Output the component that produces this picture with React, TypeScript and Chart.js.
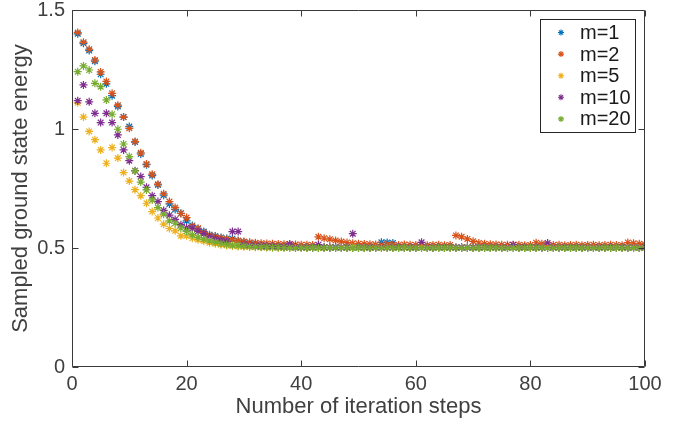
import React, { useEffect, useRef } from "react";
import { Chart, registerables } from "chart.js";

Chart.register(...registerables);

const steps = [
  1, 2, 3, 4, 5, 6, 7, 8, 9, 10,
  11, 12, 13, 14, 15, 16, 17, 18, 19, 20,
  21, 22, 23, 24, 25, 26, 27, 28, 29, 30,
  31, 32, 33, 34, 35, 36, 37, 38, 39, 40,
  41, 42, 43, 44, 45, 46, 47, 48, 49, 50,
  51, 52, 53, 54, 55, 56, 57, 58, 59, 60,
  61, 62, 63, 64, 65, 66, 67, 68, 69, 70,
  71, 72, 73, 74, 75, 76, 77, 78, 79, 80,
  81, 82, 83, 84, 85, 86, 87, 88, 89, 90,
  91, 92, 93, 94, 95, 96, 97, 98, 99, 100,
];

const m1 = [
  1.4, 1.36, 1.33, 1.285, 1.23, 1.19, 1.14, 1.095, 1.05, 1.01,
  0.945, 0.895, 0.85, 0.805, 0.765, 0.722, 0.685, 0.662, 0.646, 0.614,
  0.595, 0.58, 0.569, 0.556, 0.55, 0.544, 0.54, 0.539, 0.53, 0.525,
  0.52, 0.516, 0.513, 0.511, 0.509, 0.507, 0.506, 0.505, 0.504, 0.503,
  0.503, 0.502, 0.503, 0.502, 0.502, 0.503, 0.502, 0.502, 0.501, 0.502,
  0.502, 0.501, 0.502, 0.524, 0.523, 0.521, 0.503, 0.502, 0.502, 0.501,
  0.502, 0.502, 0.501, 0.502, 0.501, 0.502, 0.502, 0.501, 0.502, 0.501,
  0.502, 0.501, 0.502, 0.502, 0.501, 0.502, 0.501, 0.502, 0.501, 0.502,
  0.501, 0.502, 0.501, 0.502, 0.502, 0.501, 0.502, 0.501, 0.502, 0.501,
  0.502, 0.501, 0.502, 0.501, 0.502, 0.502, 0.501, 0.502, 0.501, 0.502,
];

const m2 = [
  1.405, 1.365, 1.335, 1.29, 1.24, 1.2, 1.15, 1.1, 1.05, 1.003,
  0.947, 0.9, 0.853, 0.81, 0.768, 0.728, 0.695, 0.67, 0.645, 0.628,
  0.59, 0.583, 0.565, 0.555, 0.548, 0.542, 0.537, 0.533, 0.53, 0.527,
  0.524, 0.522, 0.52, 0.519, 0.518, 0.517, 0.516, 0.515, 0.515, 0.514,
  0.514, 0.513, 0.547, 0.541, 0.537, 0.532, 0.527, 0.523, 0.52, 0.518,
  0.517, 0.516, 0.515, 0.514, 0.516, 0.514, 0.513, 0.515, 0.514, 0.513,
  0.514, 0.512, 0.513, 0.514, 0.512, 0.513, 0.553, 0.547, 0.538, 0.528,
  0.521, 0.518, 0.516, 0.515, 0.514, 0.514, 0.513, 0.514, 0.512, 0.513,
  0.522, 0.518, 0.514, 0.513, 0.514, 0.512, 0.513, 0.514, 0.512, 0.513,
  0.514, 0.512, 0.513, 0.514, 0.513, 0.512, 0.523, 0.52, 0.518, 0.515,
];

const m5 = [
  1.11, 1.05, 0.99, 0.955, 0.912, 0.856, 0.922, 0.878, 0.817, 0.781,
  0.745, 0.72, 0.688, 0.653, 0.626, 0.6, 0.582, 0.572, 0.551, 0.551,
  0.541, 0.535, 0.528, 0.522, 0.518, 0.514, 0.511, 0.508, 0.506, 0.505,
  0.504, 0.503, 0.503, 0.502, 0.502, 0.501, 0.502, 0.501, 0.501, 0.502,
  0.501, 0.502, 0.501, 0.501, 0.502, 0.501, 0.502, 0.501, 0.501, 0.502,
  0.501, 0.501, 0.502, 0.501, 0.502, 0.501, 0.501, 0.502, 0.501, 0.501,
  0.502, 0.501, 0.501, 0.502, 0.501, 0.502, 0.501, 0.501, 0.502, 0.501,
  0.501, 0.502, 0.501, 0.502, 0.501, 0.501, 0.502, 0.501, 0.501, 0.502,
  0.501, 0.502, 0.501, 0.501, 0.502, 0.501, 0.501, 0.502, 0.501, 0.502,
  0.501, 0.501, 0.502, 0.501, 0.502, 0.501, 0.501, 0.502, 0.501, 0.501,
];

const m10 = [
  1.119, 1.185, 1.114, 1.066, 1.027, 1.066, 1.027, 0.975, 0.912, 0.867,
  0.825, 0.8, 0.755, 0.72, 0.695, 0.658, 0.638, 0.62, 0.598, 0.585,
  0.582, 0.57, 0.56, 0.548, 0.54, 0.533, 0.527, 0.569, 0.569, 0.515,
  0.512, 0.51, 0.508, 0.507, 0.506, 0.505, 0.505, 0.517, 0.504, 0.503,
  0.503, 0.503, 0.514, 0.503, 0.502, 0.503, 0.502, 0.503, 0.56, 0.503,
  0.502, 0.503, 0.502, 0.503, 0.502, 0.502, 0.503, 0.502, 0.503, 0.502,
  0.524, 0.503, 0.502, 0.503, 0.502, 0.503, 0.502, 0.503, 0.502, 0.503,
  0.502, 0.503, 0.502, 0.503, 0.502, 0.503, 0.514, 0.502, 0.503, 0.502,
  0.503, 0.502, 0.521, 0.503, 0.502, 0.503, 0.502, 0.503, 0.502, 0.503,
  0.502, 0.503, 0.502, 0.503, 0.502, 0.503, 0.502, 0.503, 0.502, 0.503,
];

const m20 = [
  1.241, 1.265, 1.248, 1.192, 1.178, 1.122, 1.062, 0.999, 0.937, 0.884,
  0.824, 0.777, 0.744, 0.702, 0.67, 0.642, 0.614, 0.604, 0.584, 0.57,
  0.556, 0.545, 0.537, 0.53, 0.524, 0.519, 0.515, 0.512, 0.51, 0.508,
  0.506, 0.505, 0.504, 0.503, 0.502, 0.502, 0.501, 0.501, 0.5, 0.501,
  0.5, 0.501, 0.5, 0.5, 0.501, 0.5, 0.501, 0.5, 0.5, 0.501,
  0.5, 0.5, 0.501, 0.5, 0.501, 0.5, 0.5, 0.501, 0.5, 0.5,
  0.501, 0.5, 0.5, 0.501, 0.5, 0.501, 0.5, 0.5, 0.501, 0.5,
  0.5, 0.501, 0.5, 0.501, 0.5, 0.5, 0.501, 0.5, 0.5, 0.501,
  0.5, 0.501, 0.5, 0.5, 0.501, 0.5, 0.5, 0.501, 0.5, 0.501,
  0.5, 0.5, 0.501, 0.5, 0.501, 0.5, 0.5, 0.501, 0.5, 0.5,
];

const seriesNames = ["m=1", "m=2", "m=5", "m=10", "m=20"];
const seriesValues = [m1, m2, m5, m10, m20];
const seriesColors = ["#0072BD", "#D95319", "#EDB120", "#7E2F8E", "#77AC30"];

const xTicks = [0, 20, 40, 60, 80, 100];
const yTicks = [0, 0.5, 1, 1.5];

const FONT = "'Liberation Sans', Arial, Helvetica, sans-serif";
const TEXT_COLOR = "#404040";
const AXIS_COLOR = "#3a3a3a";

function drawStar(ctx: CanvasRenderingContext2D, x: number, y: number, r: number) {
  const d = r * Math.SQRT1_2;
  ctx.beginPath();
  ctx.moveTo(x - r, y);
  ctx.lineTo(x + r, y);
  ctx.moveTo(x, y - r);
  ctx.lineTo(x, y + r);
  ctx.moveTo(x - d, y - d);
  ctx.lineTo(x + d, y + d);
  ctx.moveTo(x - d, y + d);
  ctx.lineTo(x + d, y - d);
  ctx.stroke();
}

const framePlugin = {
  id: "matlabFrame",
  afterDatasetsDraw(chart: any) {
    const { ctx, chartArea: a, scales } = chart;
    const xs = scales.x;
    const ys = scales.y;
    const L = Math.round(a.left) + 0.5;
    const R = Math.round(a.right) - 0.5;
    const T = Math.round(a.top) + 0.5;
    const B = Math.round(a.bottom) - 0.5;
    const tl = 6;
    ctx.save();
    ctx.strokeStyle = AXIS_COLOR;
    ctx.lineWidth = 1;
    ctx.beginPath();
    ctx.rect(L, T, R - L, B - T);
    ctx.stroke();
    ctx.beginPath();
    xTicks.forEach((v) => {
      const px = Math.round(xs.getPixelForValue(v)) + 0.5;
      ctx.moveTo(px, B);
      ctx.lineTo(px, B - tl);
      ctx.moveTo(px, T);
      ctx.lineTo(px, T + tl);
    });
    yTicks.forEach((v) => {
      const py = Math.round(ys.getPixelForValue(v)) + 0.5;
      ctx.moveTo(L, py);
      ctx.lineTo(L + tl, py);
      ctx.moveTo(R, py);
      ctx.lineTo(R - tl, py);
    });
    ctx.stroke();
    ctx.restore();
  },
  afterDraw(chart: any) {
    const { ctx } = chart;
    const bx = 540.5;
    const by = 19.5;
    const bw = 95;
    const bh = 113;
    ctx.save();
    ctx.fillStyle = "#ffffff";
    ctx.fillRect(bx, by, bw, bh);
    ctx.strokeStyle = "#262626";
    ctx.lineWidth = 1;
    ctx.strokeRect(bx, by, bw, bh);
    ctx.font = `20px ${FONT}`;
    ctx.textBaseline = "middle";
    ctx.textAlign = "left";
    seriesNames.forEach((name, i) => {
      const cy = 32.5 + i * 21.6;
      ctx.strokeStyle = seriesColors[i];
      ctx.lineWidth = 1.1;
      drawStar(ctx, 561, cy, 3);
      ctx.fillStyle = "#1a1a1a";
      ctx.fillText(name, 580, cy + 1);
    });
    ctx.restore();
  },
};

export default function App() {
  const canvasRef = useRef<HTMLCanvasElement | null>(null);

  useEffect(() => {
    document.body.style.margin = "0";
    const canvas = canvasRef.current;
    if (!canvas) return;

    const datasets = seriesNames
      .map((name, i) => ({
        label: name,
        data: steps.map((s, j) => ({ x: s, y: seriesValues[i][j] })),
        showLine: false,
        pointStyle: "star" as const,
        pointRadius: 4,
        pointHoverRadius: 4,
        pointBorderWidth: 1.2,
        borderColor: seriesColors[i],
        backgroundColor: seriesColors[i],
        pointBorderColor: seriesColors[i],
        pointBackgroundColor: seriesColors[i],
      }))
      .reverse();

    const chart = new Chart(canvas, {
      type: "scatter",
      data: { datasets },
      options: {
        animation: false,
        responsive: false,
        events: [],
        layout: { padding: { top: 10, right: 40, bottom: 0, left: 0 } },
        plugins: {
          legend: { display: false },
          tooltip: { enabled: false },
        },
        scales: {
          x: {
            type: "linear",
            min: 0,
            max: 100,
            afterBuildTicks: (s: any) => {
              s.ticks = xTicks.map((v) => ({ value: v }));
            },
            ticks: {
              font: { family: FONT, size: 20 },
              color: TEXT_COLOR,
              padding: 5,
              maxRotation: 0,
              autoSkip: false,
              callback: (v: any) => String(v),
            },
            grid: { display: false, drawTicks: false },
            border: { display: false },
            title: {
              display: true,
              text: "Number of iteration steps",
              font: { family: FONT, size: 22 },
              color: TEXT_COLOR,
              padding: { top: 0, bottom: 4 },
            },
            afterFit: (s: any) => {
              s.height = 57;
              s.paddingLeft = 0;
              s.paddingRight = 0;
            },
          },
          y: {
            type: "linear",
            min: 0,
            max: 1.5,
            afterBuildTicks: (s: any) => {
              s.ticks = yTicks.map((v) => ({ value: v }));
            },
            ticks: {
              font: { family: FONT, size: 20 },
              color: TEXT_COLOR,
              padding: 7,
              autoSkip: false,
              callback: (v: any) => String(v),
            },
            grid: { display: false, drawTicks: false },
            border: { display: false },
            title: {
              display: true,
              text: "Sampled ground state energy",
              font: { family: FONT, size: 22 },
              color: TEXT_COLOR,
              padding: { top: 8, bottom: 0 },
            },
            afterFit: (s: any) => {
              s.width = 72;
              s.paddingTop = 0;
              s.paddingBottom = 0;
            },
          },
        },
      },
      plugins: [framePlugin],
    });

    return () => {
      chart.destroy();
    };
  }, []);

  return (
    <div style={{ width: 685, height: 424 }}>
      <canvas ref={canvasRef} width={685} height={424} style={{ display: "block" }} />
    </div>
  );
}
